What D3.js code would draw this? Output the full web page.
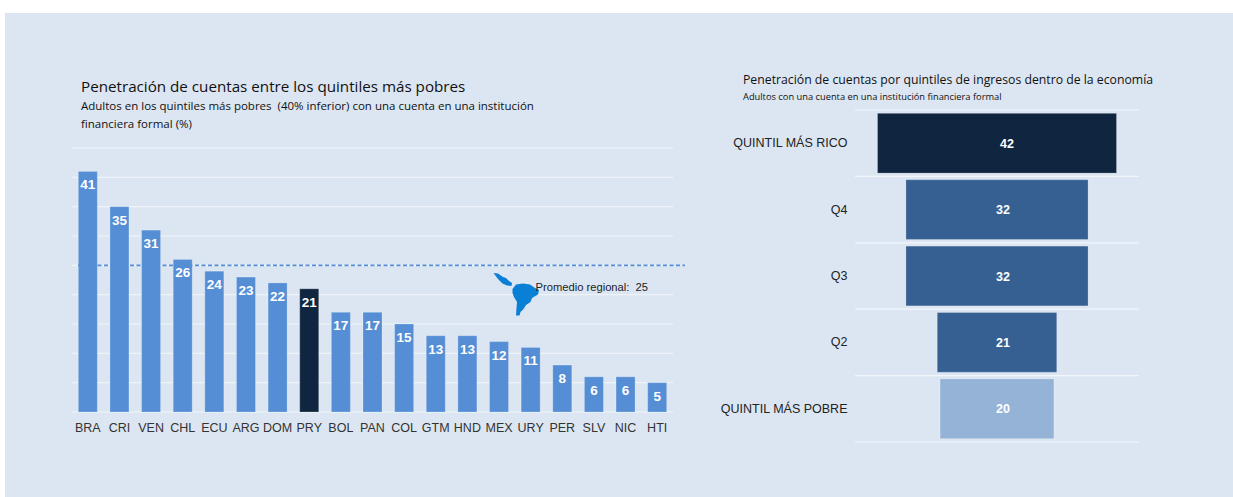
<!DOCTYPE html>
<html lang="es">
<head>
<meta charset="utf-8">
<script src="https://cdn.jsdelivr.net/npm/d3@7"></script>
<style>
  html, body { margin: 0; padding: 0; background: #fff; }
  svg { display: block; }
  .hd { font-family: "Open Sans", sans-serif; fill: #111; white-space: pre; }
  .lb { font-family: "Liberation Sans", Arial, sans-serif; white-space: pre; }
</style>
</head>
<body>
<svg id="chart" width="1233" height="497"></svg>
<script>
// Country series, poorest-40% account penetration (%)
const countries = ["BRA","CRI","VEN","CHL","ECU","ARG","DOM","PRY","BOL","PAN","COL","GTM","HND","MEX","URY","PER","SLV","NIC","HTI"];
const countryValues = [41,35,31,26,24,23,22,21,17,17,15,13,13,12,11,8,6,6,5];
const highlightCountry = "PRY";
const regionalAverage = 25;
const gridTicks = [0,5,10,15,20,25,30,35,40,45];

// Income quintile series
const quintiles = ["QUINTIL MÁS RICO","Q4","Q3","Q2","QUINTIL MÁS POBRE"];
const quintileValues = [42,32,32,21,20];
const quintileColors = ["#10253f","#376092","#376092","#376092","#95b3d7"];

const svg = d3.select("#chart");
svg.append("rect").attr("x",5).attr("y",13).attr("width",1228).attr("height",484).attr("fill","#dce6f2");

function heading(x, y, size, text) {
  svg.append("text").attr("class","hd").attr("x",x).attr("y",y).attr("font-size",size).text(text);
}

// Left panel: ranked columns by country
heading(81, 91.5, 15.2, "Penetración de cuentas entre los quintiles más pobres");
heading(81, 110, 11.5, "Adultos en los quintiles más pobres  (40% inferior) con una cuenta en una institución");
heading(81, 128, 11.5, "financiera formal (%)");

const x = d3.scaleBand().domain(countries).range([72,673]).paddingInner(0.4).paddingOuter(0.2);
const y = d3.scaleLinear().domain([0,45]).range([412,148]);

svg.append("g").selectAll("line").data(gridTicks).join("line")
  .attr("x1",72).attr("x2",673)
  .attr("y1",d=>y(d)).attr("y2",d=>y(d))
  .attr("stroke","#eef3f9").attr("stroke-width",1.2);

const columns = svg.append("g").selectAll("g").data(countries).join("g");
columns.append("rect")
  .attr("x",d=>x(d)).attr("width",x.bandwidth())
  .attr("y",(d,i)=>y(countryValues[i]))
  .attr("height",(d,i)=>y(0)-y(countryValues[i]))
  .attr("fill",d=>d===highlightCountry?"#10253f":"#558ed5")
  .attr("stroke","#ffffff").attr("stroke-opacity",0.22).attr("stroke-width",1);
columns.append("text").attr("class","lb")
  .attr("x",d=>x(d)+x.bandwidth()/2)
  .attr("y",(d,i)=>y(countryValues[i])+18)
  .attr("text-anchor","middle").attr("font-size",13.5).attr("font-weight",700).attr("fill","#fff")
  .text((d,i)=>countryValues[i]);

// Category labels come from a bottom axis with its line and ticks removed
const xAxis = svg.append("g").attr("transform",`translate(0,${y(0)})`)
  .call(d3.axisBottom(x).tickSize(0).tickPadding(11));
xAxis.select(".domain").remove();
xAxis.selectAll("text").attr("class","lb").attr("font-size",12.5).attr("fill","#333");

// Regional average reference line
svg.append("line")
  .attr("x1",78).attr("x2",685)
  .attr("y1",y(regionalAverage)).attr("y2",y(regionalAverage))
  .attr("stroke","#558ed5").attr("stroke-width",1.6).attr("stroke-dasharray","4 2.5");

// Latin America pictogram beside the average label
const map = svg.append("g").attr("fill","#0a7fd6");
map.append("path").attr("d","M493.5 273 L498 273.5 L503 277 L506 278 L509 281 L512 283 L511.5 286 L507 285.5 L502.5 283.5 L498 279 Z");
map.append("path").attr("d","M512.5 293 L512.5 289 L516 284.5 L523 283.5 L530 284.5 L535 288 L539 290 L538 294.5 L532 298 L530.5 302 L526 305 L523.5 309 L520.5 312 L519.5 315.5 L516 315.5 L516.5 308 L517 302 L514 297 Z");

svg.append("text").attr("class","lb").attr("x",535.5).attr("y",291)
  .attr("font-size",11.2).attr("fill","#222").text("Promedio regional:  "+regionalAverage);

// Right panel: centred funnel by income quintile
heading(743, 84, 12.25, "Penetración de cuentas por quintiles de ingresos dentro de la economía");
heading(743, 100, 9.3, "Adultos con una cuenta en una institución financiera formal");

const fy = d3.scaleBand().domain(quintiles).range([110,442]).paddingInner(0.1).paddingOuter(0.05);
const halfWidth = d3.scaleLinear().domain([0,42]).range([0,119.5]);
const funnelMid = 997;

svg.append("g").selectAll("line").data(d3.range(quintiles.length+1)).join("line")
  .attr("x1",855).attr("x2",1139)
  .attr("y1",i=>110+i*fy.step()).attr("y2",i=>110+i*fy.step())
  .attr("stroke","#f2f6fb").attr("stroke-width",1.2);

const rows = svg.append("g").selectAll("g").data(quintiles).join("g");
rows.append("rect")
  .attr("x",(d,i)=>funnelMid-halfWidth(quintileValues[i]))
  .attr("width",(d,i)=>2*halfWidth(quintileValues[i]))
  .attr("y",d=>fy(d)).attr("height",fy.bandwidth())
  .attr("fill",(d,i)=>quintileColors[i])
  .attr("stroke","#ffffff").attr("stroke-opacity",0.22).attr("stroke-width",1);
// The widest row's value label sits a little further right than the others
rows.append("text").attr("class","lb")
  .attr("x",(d,i)=>funnelMid+(i===0?10:6)).attr("y",d=>fy(d)+fy.bandwidth()/2+4.5)
  .attr("text-anchor","middle").attr("font-size",12.5).attr("font-weight",700).attr("fill","#fff")
  .text((d,i)=>quintileValues[i]);
rows.append("text").attr("class","lb")
  .attr("x",847.5).attr("y",d=>fy(d)+fy.bandwidth()/2+4)
  .attr("text-anchor","end").attr("font-size",12.5).attr("fill","#222")
  .text(d=>d);
</script>
</body>
</html>
